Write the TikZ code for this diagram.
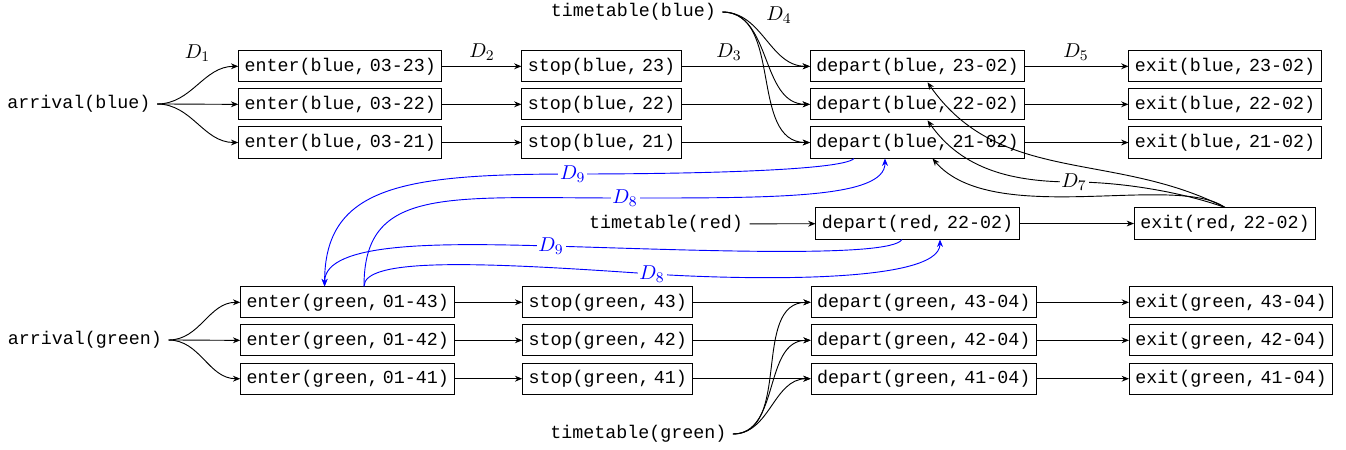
\documentclass[tikz,border=0pt]{standalone}
\usepackage{fontspec}
\newfontfamily\tfont{Liberation Mono}
\usetikzlibrary{arrows.meta,calc}
\newcommand\cmsp{\kern2.4pt}
\begin{document}
\begin{tikzpicture}[x=0.5455pt,y=-0.5455pt,line width=0.5pt,
  >={Stealth[length=4pt,width=3.2pt]},
  box/.style={draw, font=\tfont, inner xsep=3.2pt, inner ysep=0pt, minimum height=17pt},
  txt/.style={font=\tfont, inner sep=3.3pt},
  dlab/.style={inner sep=1pt, font=\fontsize{11}{13}\selectfont},
  wlab/.style={fill=white, inner sep=1pt, font=\fontsize{11}{13}\selectfont},
  blab/.style={fill=white, inner sep=1pt, text=blue, font=\fontsize{11}{13}\selectfont},
  link/.style={->},
  blink/.style={->, draw=blue},
]
\useasboundingbox (0,0) rectangle (1346,449);

% ---------- blue ----------
\node[txt] (aB) at (79,104) {arrival(blue)};
\node[txt] (tB) at (633.3,12) {timetable(blue)};
\foreach \r/\y/\e/\s/\d in {1/66.3/03-23/23/23-02, 2/104.3/03-22/22/22-02, 3/142.5/03-21/21/21-02}{
  \node[box] (eB\r) at (340.3,\y) {enter(blue,\cmsp \e)};
  \node[box] (sB\r) at (601.5,\y) {stop(blue,\cmsp \s)};
  \node[box] (dB\r) at (917.5,\y) {depart(blue,\cmsp \d)};
  \node[box] (xB\r) at (1225,\y) {exit(blue,\cmsp \d)};
}
% ---------- red ----------
\node[txt] (tR) at (666,224) {timetable(red)};
\node[box] (dR) at (917.5,223.5) {depart(red,\cmsp 22-02)};
\node[box] (xR) at (1225,223.5) {exit(red,\cmsp 22-02)};
% ---------- green ----------
\node[txt] (aG) at (85,340) {arrival(green)};
\node[txt] (tG) at (638.3,434) {timetable(green)};
\foreach \r/\y/\e/\s/\d in {1/302.3/01-43/43/43-04, 2/340.3/01-42/42/42-04, 3/378.7/01-41/41/41-04}{
  \node[box] (eG\r) at (347.8,\y) {enter(green,\cmsp \e)};
  \node[box] (sG\r) at (607.8,\y) {stop(green,\cmsp \s)};
  \node[box] (dG\r) at (923.7,\y) {depart(green,\cmsp \d)};
  \node[box] (xG\r) at (1231,\y) {exit(green,\cmsp \d)};
}

% labels
\node[dlab] (D1) at (197.5,53) {$D_1$};
\node[dlab] (D2) at (482,52) {$D_2$};
\node[dlab] (D3) at (729,52) {$D_3$};
\node[dlab] (D4) at (779,15) {$D_4$};
\node[dlab] (D5) at (1076,52) {$D_5$};

% straight / simple edges
\foreach \r in {1,2,3}{
  \draw[link] (aB.east) to[out=0,in=180] (eB\r.west);
  \draw[link] (eB\r) -- (sB\r);
  \draw[link] (sB\r) -- (dB\r);
  \draw[link] (tB.east) to[out=0,in=180] (dB\r.west);
  \draw[link] (dB\r) -- (xB\r);
  \draw[link] (aG.east) to[out=0,in=180] (eG\r.west);
  \draw[link] (eG\r) -- (sG\r);
  \draw[link] (sG\r) -- (dG\r);
  \draw[link] (tG.east) to[out=0,in=180] (dG\r.west);
  \draw[link] (dG\r) -- (xG\r);
}
\draw[link] (tR) -- (dR);
\draw[link] (dR) -- (xR);

% exit(red) back to depart(blue)
\coordinate (w7) at (1074,182);
\draw[link] (xR.north) .. controls +(-112,-57) and +(72,103) .. ($(dB1.south)+(10,0)$);
\draw[link] (xR.north) .. controls +(-45,-16) and +(46,0) .. (w7) node[wlab]{$D_7$}
   .. controls +(-60,0) and +(35,50) .. ($(dB2.south)+(10,0)$);
\draw[link] (xR.north) .. controls +(-50,-35) and +(60,70) .. ($(dB3.south)+(15,0)$);

% blue constraints
\coordinate (w9a) at (572.7,174);
\coordinate (w8a) at (625,198);
\coordinate (w9b) at (551,246);
\coordinate (w8b) at (652,274);
\draw[blink] ($(dB3.south)+(-63.5,0)$) .. controls +(-12,12) and +(120,0) .. (w9a) node[blab]{$D_9$}
   .. controls +(-170,0) and +(0,-100) .. ($(eG1.north)+(-23.2,0)$);
\draw[blink] ($(eG1.north)+(16.2,0)$) .. controls +(0,-100) and +(-180,0) .. (w8a) node[blab]{$D_8$}
   .. controls +(150,0) and +(0,40) .. ($(dB3.south)+(-32.5,0)$);
\draw[blink] ($(dR.south)+(-15.5,0)$) .. controls +(-12,19) and +(139,4) .. (w9b) node[blab]{$D_9$}
   .. controls +(-110,-3) and +(0,-45) .. ($(eG1.north)+(-23.2,0)$);
\draw[blink] ($(eG1.north)+(16.2,0)$) .. controls +(0,-29) and +(-172,-12) .. (w8b) node[blab]{$D_8$}
   .. controls +(78,5) and +(0,46) .. ($(dR.south)+(22.5,0)$);
\end{tikzpicture}
\end{document}
